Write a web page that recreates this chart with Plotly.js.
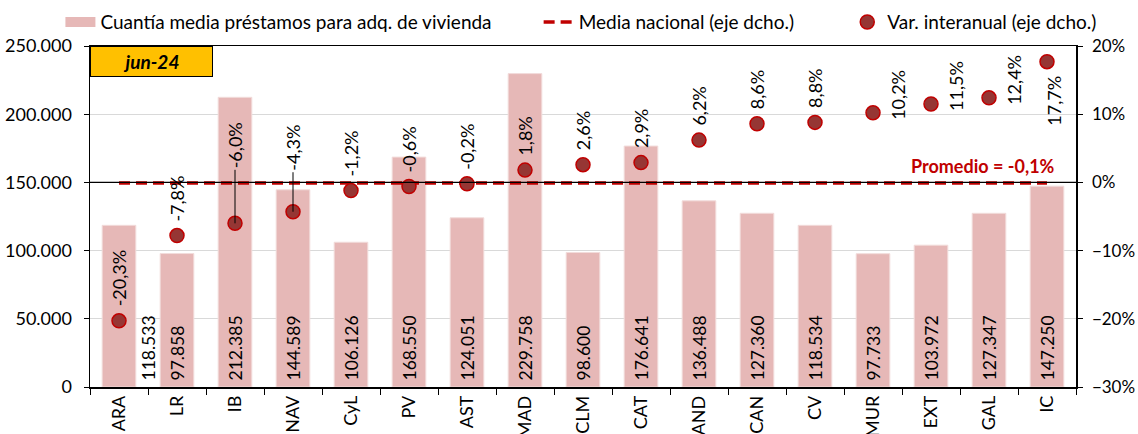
<!DOCTYPE html>
<html>
<head>
<meta charset="utf-8">
<script src="https://cdn.plot.ly/plotly-3.0.1.min.js"></script>
<style>
  html, body { margin: 0; padding: 0; background: #fff; }
  #chart { width: 1138px; height: 434px; }
</style>
</head>
<body>
<div id="chart"></div>
<script>
'use strict'

// datos (jun-24)
var categorias = ['ARA', 'LR', 'IB', 'NAV', 'CyL', 'PV', 'AST', 'MAD', 'CLM', 'CAT',
                  'AND', 'CAN', 'CV', 'MUR', 'EXT', 'GAL', 'IC'];
var cuantiaMedia = [118533, 97858, 212385, 144589, 106126, 168550, 124051, 229758, 98600,
                    176641, 136488, 127360, 118534, 97733, 103972, 127347, 147250];
var varInteranual = [-20.3, -7.8, -6.0, -4.3, -1.2, -0.6, -0.2, 1.8, 2.6, 2.9,
                     6.2, 8.6, 8.8, 10.2, 11.5, 12.4, 17.7];
var mediaNacional = -0.1;
var fecha = 'jun-24';

var FONT = 'Lato, "Open Sans", sans-serif';
var PINK = 'rgb(230,184,183)';
var RED = '#C00000';
var DOT = 'rgb(150,54,52)';

function miles(v) {
  return String(v).replace(/\B(?=(\d{3})+(?!\d))/g, '.');
}
function pct(v) {
  return v.toFixed(1).replace('.', ',') + '%';
}

var traces = [];

traces.push({
  type: 'bar', x: categorias, y: cuantiaMedia, width: 0.58,
  marker: { color: PINK, line: { color: 'rgb(242,220,219)', width: 1 } },
  showlegend: false, hoverinfo: 'skip', yaxis: 'y'
});
// legend entry for the bars (wide swatch like the original)
traces.push({
  type: 'scatter', mode: 'lines', x: [null], y: [null],
  name: 'Cuantía media préstamos para adq. de vivienda',
  line: { color: PINK, width: 12 }, legend: 'legend', yaxis: 'y'
});
traces.push({
  type: 'scatter', mode: 'lines', x: categorias,
  y: categorias.map(function () { return mediaNacional; }),
  name: 'Media nacional (eje dcho.)',
  line: { color: RED, width: 3.5, dash: '11px,6px' },
  legend: 'legend2', yaxis: 'y2', hoverinfo: 'skip'
});
traces.push({
  type: 'scatter', mode: 'markers', x: categorias, y: varInteranual,
  name: 'Var. interanual (eje dcho.)',
  marker: { color: DOT, size: 14, line: { color: RED, width: 1.5 } },
  legend: 'legend3', yaxis: 'y2', cliponaxis: false, hoverinfo: 'skip'
});

var annotations = [];

// valores de las barras, en la base
categorias.forEach(function (c, i) {
  annotations.push({
    x: c, y: 0, xref: 'x', yref: 'y', text: miles(cuantiaMedia[i]),
    textangle: -90, showarrow: false, yanchor: 'bottom', yshift: 4,
    xshift: (i === 0 ? 29 : 0),
    font: { family: FONT, size: 17.5, color: '#000' }
  });
});

// etiquetas de variación
var colocacion = {
  IB: { ay: -78 }, NAV: { ay: -64 },
  MUR: { lado: 'derecha' }, EXT: { lado: 'derecha' }, GAL: { lado: 'derecha' },
  IC: { lado: 'debajo' }
};
categorias.forEach(function (c, i) {
  var a = {
    x: c, y: varInteranual[i], xref: 'x', yref: 'y2', text: pct(varInteranual[i]),
    textangle: -90, showarrow: false, yanchor: 'bottom', yshift: 12,
    font: { family: FONT, size: 18, color: '#000' }
  };
  var p = colocacion[c];
  if (p && p.ay) {
    a.showarrow = true; a.ax = 0; a.ay = p.ay; a.arrowhead = 0;
    a.arrowwidth = 1; a.arrowcolor = '#000'; a.standoff = 0;
    delete a.yanchor; delete a.yshift;
  } else if (p && p.lado === 'derecha') {
    a.xshift = 25; a.yshift = -9;
  } else if (p && p.lado === 'debajo') {
    a.yanchor = 'top'; a.yshift = -12; a.xshift = 7;
  }
  annotations.push(a);
});

annotations.push({
  x: categorias[categorias.length - 1], y: mediaNacional, xref: 'x', yref: 'y2',
  text: '<b>Promedio = ' + pct(mediaNacional) + '</b>', showarrow: false,
  xanchor: 'right', xshift: 10, yanchor: 'bottom', yshift: 4,
  font: { family: FONT, size: 18, color: RED }
});

annotations.push({
  x: 0, y: 1, xref: 'paper', yref: 'paper', xanchor: 'left', yanchor: 'top',
  text: '<b><i>' + fecha + '</i></b>', showarrow: false,
  bgcolor: '#FFC000', bordercolor: '#000', borderwidth: 1, borderpad: 1,
  width: 119, height: 27, font: { family: FONT, size: 19, color: '#000' }
});

var legendBase = {
  orientation: 'h', yref: 'paper', y: 1.07, yanchor: 'middle', xanchor: 'left',
  font: { family: FONT, size: 19, color: '#000' }, bgcolor: 'rgba(0,0,0,0)',
  itemclick: false, itemdoubleclick: false
};

var layout = {
  width: 1138, height: 434,
  margin: { l: 90, r: 62, t: 46, b: 47, autoexpand: false },
  paper_bgcolor: '#fff', plot_bgcolor: '#fff',
  separators: ',.',
  font: { family: FONT, size: 18, color: '#000' },
  bargap: 0.42,
  legend: Object.assign({}, legendBase, { x: -0.03 }),
  legend2: Object.assign({}, legendBase, { x: 0.455 }),
  legend3: Object.assign({}, legendBase, { x: 0.768 }),
  xaxis: {
    type: 'category', tickangle: -90, ticks: 'outside', tickson: 'boundaries',
    ticklen: 6, tickcolor: '#000', showline: true, linecolor: '#000', linewidth: 1.5,
    mirror: true, showgrid: false, tickfont: { family: FONT, size: 18 },
    range: [-0.5, categorias.length - 0.5]
  },
  yaxis: {
    range: [0, 250000], dtick: 50000, tickformat: ',d', ticks: 'outside', ticklen: 5,
    tickcolor: '#000', showline: true, linecolor: '#000', linewidth: 1.5,
    gridcolor: '#D9D9D9', gridwidth: 1, zeroline: false, ticklabelstandoff: 8,
    tickfont: { family: FONT, size: 18 }
  },
  yaxis2: {
    overlaying: 'y', side: 'right', range: [-30, 20], dtick: 10, ticksuffix: '%',
    ticks: 'outside', ticklen: 5, tickcolor: '#000', showline: true, linecolor: '#000',
    linewidth: 1.5, showgrid: false, zeroline: false, ticklabelstandoff: 6,
    tickfont: { family: FONT, size: 17 }
  },
  shapes: [{
    type: 'line', xref: 'paper', x0: 0, x1: 1, yref: 'y2', y0: 0, y1: 0,
    line: { color: '#000', width: 1.2 }, layer: 'above'
  }],
  annotations: annotations
};

Plotly.newPlot('chart', traces, layout, { displayModeBar: false, staticPlot: true });
</script>
</body>
</html>
